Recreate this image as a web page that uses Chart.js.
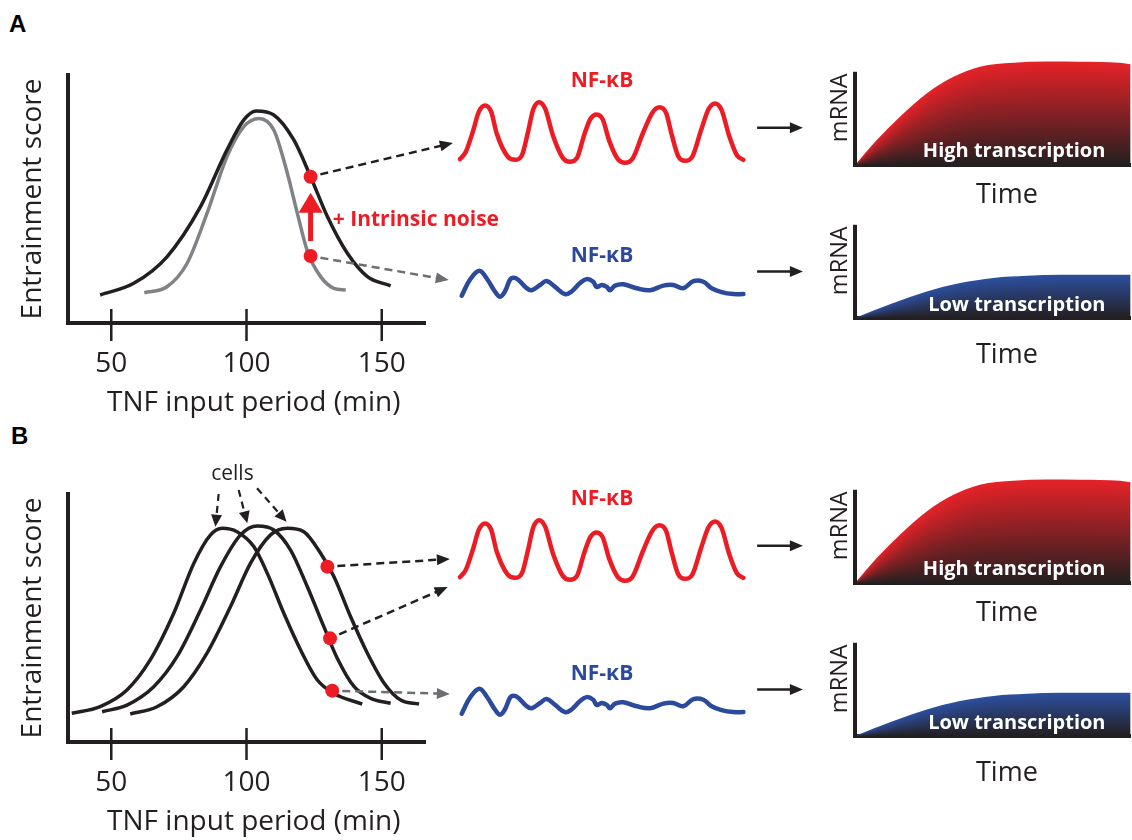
<!DOCTYPE html>
<html>
<head>
<meta charset="utf-8">
<title>TNF entrainment and NF-κB driven transcription</title>
<script src="https://cdn.jsdelivr.net/npm/chart.js@4.4.1/dist/chart.umd.min.js"></script>
<style>
  html, body { margin: 0; padding: 0; background: #fff; }
  #page { position: relative; width: 1132px; height: 840px; overflow: hidden; }
  canvas { position: absolute; }
  .panel-label { position: absolute; font: bold 24px 'Liberation Sans', Arial, sans-serif; line-height: 1; color: #000; }
</style>
</head>
<body>
<div id="page">
  <div class="panel-label" style="left:9px; top:12px">A</div>
  <div class="panel-label" style="left:11px; top:424px">B</div>

  <canvas id="mainA" width="520" height="380" style="left:0; top:40px"></canvas>
  <canvas id="pulseA" width="300" height="115" style="left:455px; top:60px"></canvas>
  <canvas id="noisyA" width="300" height="73" style="left:455px; top:235px"></canvas>
  <canvas id="highA" width="382" height="175" style="left:750px; top:40px"></canvas>
  <canvas id="lowA" width="382" height="182" style="left:750px; top:193px"></canvas>

  <canvas id="mainB" width="520" height="380" style="left:0; top:459px"></canvas>
  <canvas id="pulseB" width="300" height="115" style="left:455px; top:478px"></canvas>
  <canvas id="noisyB" width="300" height="73" style="left:455px; top:653px"></canvas>
  <canvas id="highB" width="382" height="175" style="left:750px; top:458px"></canvas>
  <canvas id="lowB" width="382" height="182" style="left:750px; top:611px"></canvas>
</div>

<script>
const ink = '#231f20';
const red = '#ed1c24';
const blue = '#2b4a9b';
const gray = '#808285';

// TNF input period axis (min)
const periodTicks = [50, 100, 150];

// Panel A: entrainment score, with intrinsic noise (black) and without (gray)
const noisyPeriodA = [45.9, 58.3, 70.6, 83.0, 92.8, 99.0, 103.6, 110.1, 117.5, 123.7, 129.9, 137.3, 144.7, 153.3];
const noisyScoreA = [0.113, 0.160, 0.267, 0.469, 0.698, 0.819, 0.855, 0.839, 0.738, 0.590, 0.429, 0.281, 0.187, 0.150];
const quietPeriodA = [62.2, 70.6, 78.0, 85.4, 92.8, 99.0, 104.6, 110.1, 115.1, 118.8, 122.5, 127.4, 132.3, 136.7];
const quietScoreA = [0.122, 0.146, 0.240, 0.442, 0.671, 0.792, 0.825, 0.778, 0.604, 0.442, 0.290, 0.187, 0.140, 0.133];
const markedPeriodA = [123.7, 123.7];
const markedScoreA = [0.59, 0.27];

// Panel B: three cells with shifted entrainment curves
const cell1Period = [35.4, 45.9, 55.8, 64.4, 73.1, 80.5, 86.7, 91.0, 96.5, 102.7, 107.7, 113.8, 120.0, 126.2, 132.3, 142.8];
const cell1Score = [0.116, 0.143, 0.210, 0.331, 0.519, 0.720, 0.835, 0.862, 0.848, 0.788, 0.680, 0.519, 0.371, 0.250, 0.196, 0.153];
const cell2Period = [46.6, 55.8, 65.7, 74.3, 83.0, 90.4, 97.8, 104.0, 110.1, 116.3, 122.5, 128.6, 133.6, 139.8, 145.9, 153.3];
const cell2Score = [0.122, 0.149, 0.223, 0.344, 0.532, 0.707, 0.835, 0.871, 0.855, 0.774, 0.626, 0.465, 0.337, 0.223, 0.176, 0.156];
const cell3Period = [57.0, 66.9, 76.8, 85.4, 94.1, 101.5, 108.9, 115.1, 121.2, 127.4, 132.3, 138.5, 144.7, 150.9, 157.0, 163.8];
const cell3Score = [0.113, 0.142, 0.223, 0.358, 0.546, 0.721, 0.835, 0.862, 0.848, 0.761, 0.667, 0.505, 0.358, 0.237, 0.169, 0.153];
const markedPeriodB = [129.9, 130.9, 131.7];
const markedScoreB = [0.707, 0.418, 0.207];

// NF-κB traces (time in % of trace, level relative to the regular pulses)
const pulseTime = [0, 2.0, 4.7, 6.6, 8.8, 11.0, 12.9, 16.8, 19.4, 21.8, 23.9, 25.8, 27.9, 30.0, 32.7, 36.2, 38.7, 41.2, 43.7, 45.9, 48.1, 50.3, 52.5, 55.6, 58.1, 60.8, 64.4, 67.8, 70.2, 72.6, 74.6, 76.8, 79.2, 81.8, 84.9, 87.5, 89.8, 92.1, 94.7, 97.5, 99.8];
const pulseLevel = [0.09, 0.20, 0.54, 0.82, 0.92, 0.82, 0.49, 0.13, 0.08, 0.15, 0.50, 0.86, 0.97, 0.87, 0.46, 0.11, 0.05, 0.11, 0.46, 0.71, 0.78, 0.70, 0.38, 0.09, 0.035, 0.10, 0.49, 0.81, 0.89, 0.80, 0.46, 0.14, 0.066, 0.13, 0.54, 0.86, 0.95, 0.85, 0.46, 0.15, 0.08];
const noisyTime = [0.6, 3.5, 6.8, 9.4, 12.3, 14.1, 15.8, 17.6, 18.8, 20.5, 23.5, 25.2, 28.2, 30.5, 33.5, 37.0, 39.3, 42.3, 44.6, 46.9, 48.1, 49.9, 51.7, 52.8, 54.6, 57.5, 62.2, 66.9, 71.6, 75.1, 78.6, 82.2, 85.7, 88.6, 92.1, 96.2, 99.8];
const noisyLevel = [0.035, 0.28, 0.42, 0.30, 0.10, 0.02, 0.10, 0.28, 0.31, 0.28, 0.15, 0.12, 0.20, 0.26, 0.17, 0.06, 0.10, 0.23, 0.29, 0.25, 0.17, 0.20, 0.17, 0.12, 0.19, 0.21, 0.15, 0.12, 0.19, 0.20, 0.15, 0.26, 0.25, 0.15, 0.09, 0.06, 0.06];

// mRNA accumulation over time
const highTime = [0, 7.9, 16.3, 26.0, 35.7, 45.3, 57.4, 69.5, 81.6, 96.1, 100];
const highMrna = [0, 0.268, 0.518, 0.768, 0.946, 1.054, 1.096, 1.111, 1.107, 1.096, 1.08];
const lowTime = [0, 13.9, 26.0, 38.1, 50.2, 62.3, 74.4, 86.5, 100];
const lowMrna = [0, 0.16, 0.285, 0.375, 0.43, 0.453, 0.464, 0.464, 0.464];

Chart.defaults.font.family = '"Open Sans", sans-serif';
Chart.defaults.color = ink;

function pts(xs, ys) {
    return xs.map((x, i) => ({ x: x, y: ys[i] }));
}

function arrow(ctx, x0, y0, x1, y1, o) {
    const a = Math.atan2(y1 - y0, x1 - x0);
    const c = Math.cos(a), s = Math.sin(a);
    const head = o.head || 13, half = o.half || 5.5, gap = o.gap || 0;
    const bx = x1 - c * head, by = y1 - s * head;
    ctx.strokeStyle = o.color;
    ctx.fillStyle = o.color;
    ctx.lineWidth = o.width || 2.5;
    ctx.setLineDash(o.dash || []);
    ctx.beginPath();
    ctx.moveTo(x0 + c * gap, y0 + s * gap);
    ctx.lineTo(bx + c * 2, by + s * 2);
    ctx.stroke();
    ctx.setLineDash([]);
    ctx.beginPath();
    ctx.moveTo(x1, y1);
    ctx.lineTo(bx - s * half, by + c * half);
    ctx.lineTo(bx + s * half, by - c * half);
    ctx.closePath();
    ctx.fill();
}

// period ticks and their labels, arrows and notes, all placed through the scales
function entrainmentNotes(notes) {
    return {
        id: 'entrainmentNotes',
        afterDatasetsDraw(chart) {
            const { ctx, chartArea } = chart;
            const px = v => chart.scales.x.getPixelForValue(v);
            const py = v => chart.scales.y.getPixelForValue(v);
            ctx.save();
            ctx.strokeStyle = ink;
            ctx.fillStyle = ink;
            ctx.lineWidth = 2.5;
            ctx.font = '28px "Open Sans"';
            ctx.textAlign = 'center';
            ctx.textBaseline = 'middle';
            periodTicks.forEach(v => {
                ctx.beginPath();
                ctx.moveTo(px(v), chartArea.bottom - 14);
                ctx.lineTo(px(v), chartArea.bottom + 18);
                ctx.stroke();
                ctx.fillText(String(v), px(v), chartArea.bottom + 41);
            });
            notes.arrows.forEach(a => arrow(ctx, px(a.from[0]), py(a.from[1]), px(a.to[0]), py(a.to[1]), a));
            notes.labels.forEach(l => {
                ctx.font = l.font;
                ctx.fillStyle = l.color;
                ctx.textAlign = l.align;
                ctx.textBaseline = 'middle';
                ctx.fillText(l.text, px(l.at[0]), py(l.at[1]));
            });
            ctx.restore();
        }
    };
}

function entrainmentChart(id, curves, dots, notes) {
    const datasets = [{
        data: pts(dots.x, dots.y),
        showLine: false,
        pointRadius: 7,
        pointBackgroundColor: red,
        pointBorderWidth: 0
    }];
    curves.forEach(c => datasets.push({
        data: pts(c.x, c.y),
        borderColor: c.color,
        borderWidth: 3.5,
        pointRadius: 0,
        fill: false,
        cubicInterpolationMode: 'monotone'
    }));
    return new Chart(document.getElementById(id), {
        type: 'line',
        data: { datasets: datasets },
        options: {
            responsive: false,
            animation: false,
            devicePixelRatio: 1,
            events: [],
            layout: { padding: { left: 16, top: 35, right: 95, bottom: 0.2 } },
            plugins: { legend: { display: false }, tooltip: { enabled: false } },
            scales: {
                x: {
                    type: 'linear', min: 34, max: 166,
                    grid: { display: false, drawTicks: false },
                    border: { display: true, width: 4, color: ink },
                    ticks: { display: false },
                    title: { display: true, text: '  TNF input period (min)', color: ink, font: { size: 28 }, padding: { top: 63.2, bottom: 0 } }
                },
                y: {
                    min: 0, max: 1,
                    grid: { display: false, drawTicks: false },
                    border: { display: true, width: 4, color: ink },
                    ticks: { display: false },
                    title: { display: true, text: 'Entrainment score', color: ink, font: { size: 28 }, padding: { top: 0, bottom: 18.4 } }
                }
            }
        },
        plugins: [entrainmentNotes(notes)]
    });
}

function nfkbChart(id, xs, ys, color, yMax, titleGap, smooth) {
    return new Chart(document.getElementById(id), {
        type: 'line',
        data: {
            datasets: [{
                data: pts(xs, ys),
                borderColor: color,
                borderWidth: 4.5,
                borderCapStyle: 'round',
                borderJoinStyle: 'round',
                pointRadius: 0,
                clip: false,
                cubicInterpolationMode: smooth,
                tension: 0.4
            }]
        },
        options: {
            responsive: false,
            animation: false,
            devicePixelRatio: 1,
            events: [],
            layout: { padding: { left: 5, right: 11, top: 0, bottom: 10 } },
            plugins: {
                legend: { display: false },
                tooltip: { enabled: false },
                title: { display: true, text: 'NF-κB', color: color, font: { size: 21, weight: 'bold' }, padding: { top: 8, bottom: titleGap } }
            },
            scales: {
                x: { type: 'linear', display: false, min: 0, max: 100 },
                y: { display: false, min: 0, max: yMax }
            }
        }
    });
}

// shade each column from the curve top down to the axis, so colour follows the shape
function mrnaShade(chart, xs, ys, topColor) {
    const { chartArea, scales } = chart;
    if (!chartArea) return topColor;
    const x = scales.x, y = scales.y;
    const off = document.createElement('canvas');
    off.width = chart.width;
    off.height = chart.height;
    const c = off.getContext('2d');
    const bottom = y.getPixelForValue(0);
    const px = xs.map(v => x.getPixelForValue(v));
    const py = ys.map(v => y.getPixelForValue(v));
    for (let col = Math.floor(px[0]); col <= Math.ceil(px[px.length - 1]); col++) {
        let k = 1;
        while (k < px.length - 1 && px[k] < col) k++;
        const f = Math.min(1, Math.max(0, (col - px[k - 1]) / (px[k] - px[k - 1])));
        const top = Math.min(py[k - 1] + f * (py[k] - py[k - 1]), bottom - 1);
        const g = c.createLinearGradient(0, top, 0, bottom);
        g.addColorStop(0, topColor);
        g.addColorStop(1, ink);
        c.fillStyle = g;
        c.fillRect(col - 1, top - 3, 2, bottom - top + 6);
    }
    return chart.ctx.createPattern(off, 'no-repeat');
}

function mrnaNotes(label, labelAt, arrowSpan) {
    return {
        id: 'mrnaNotes',
        afterDatasetsDraw(chart) {
            const { ctx, chartArea } = chart;
            const x = chart.scales.x, y = chart.scales.y;
            ctx.save();
            ctx.strokeStyle = ink;
            ctx.lineWidth = 4;
            ctx.beginPath();
            ctx.moveTo(chartArea.left, y.getPixelForValue(0) + 2);
            ctx.lineTo(chartArea.left, y.getPixelForValue(1));
            ctx.stroke();
            arrow(ctx, x.getPixelForValue(arrowSpan[0]), y.getPixelForValue(arrowSpan[2]),
                x.getPixelForValue(arrowSpan[1]), y.getPixelForValue(arrowSpan[2]),
                { color: ink, width: 2.5, head: 13, half: 5.5 });
            ctx.font = 'bold 20px "Open Sans"';
            ctx.fillStyle = '#fff';
            ctx.textAlign = 'center';
            ctx.textBaseline = 'alphabetic';
            ctx.fillText(label, x.getPixelForValue(labelAt[0]), y.getPixelForValue(labelAt[1]));
            ctx.restore();
        }
    };
}

function mrnaChart(id, xs, ys, topColor, label, labelAt, arrowSpan, timeGap) {
    return new Chart(document.getElementById(id), {
        type: 'line',
        data: {
            datasets: [{
                data: pts(xs, ys),
                borderWidth: 0,
                pointRadius: 0,
                fill: 'origin',
                cubicInterpolationMode: 'monotone',
                backgroundColor: c => mrnaShade(c.chart, xs, ys, topColor)
            }]
        },
        options: {
            responsive: false,
            animation: false,
            devicePixelRatio: 1,
            events: [],
            layout: { padding: { left: 70, right: 1.3, top: 15, bottom: 3.8 } },
            plugins: { legend: { display: false }, tooltip: { enabled: false } },
            scales: {
                x: {
                    type: 'linear', min: 0, max: 100,
                    grid: { display: false, drawTicks: false },
                    border: { display: true, width: 4, color: ink },
                    ticks: { display: false },
                    title: { display: true, text: '    Time', color: ink, font: { size: 27 }, padding: { top: timeGap, bottom: 0 } }
                },
                y: {
                    min: 0, max: 1.18,
                    grid: { display: false, drawTicks: false },
                    border: { display: false },
                    ticks: { display: false },
                    title: { display: true, text: 'mRNA   ', align: 'end', color: ink, font: { size: 23.5 }, padding: { top: 5.9, bottom: 0.9 } }
                }
            }
        },
        plugins: [mrnaNotes(label, labelAt, arrowSpan)]
    });
}

const dashBlack = { color: ink, dash: [8, 5], width: 2.5, gap: 10 };
const dashGray = { color: '#6d6e71', dash: [8, 5], width: 2.5, gap: 10 };

// Panel A
entrainmentChart('mainA',
    [{ x: noisyPeriodA, y: noisyScoreA, color: ink }, { x: quietPeriodA, y: quietScoreA, color: gray }],
    { x: markedPeriodA, y: markedScoreA },
    {
        arrows: [
            Object.assign({ from: [markedPeriodA[0], markedScoreA[0]], to: [176.3, 0.726] }, dashBlack),
            Object.assign({ from: [markedPeriodA[1], markedScoreA[1]], to: [174.8, 0.173] }, dashGray),
            { from: [markedPeriodA[1], markedScoreA[1]], to: [markedPeriodA[0], 0.525], color: red, width: 5, head: 20, half: 12, gap: 15 }
        ],
        labels: [{ text: '+ Intrinsic noise', at: [131.9, 0.415], font: 'bold 21px "Open Sans"', color: red, align: 'left' }]
    });
nfkbChart('pulseA', pulseTime, pulseLevel, red, 1, 7, 'monotone');
nfkbChart('noisyA', noisyTime, noisyLevel, blue, 0.458, 0, 'default');
mrnaChart('highA', highTime, highMrna, '#e52228', 'High transcription', [57.7, 0.09], [-35.5, -18.9, 0.40], 13.8);
mrnaChart('lowA', lowTime, lowMrna, '#2d4fa0', 'Low transcription', [58.7, 0.08], [-35.5, -18.9, 0.50], 20.8);

// Panel B
entrainmentChart('mainB',
    [{ x: cell1Period, y: cell1Score, color: ink }, { x: cell2Period, y: cell2Score, color: ink }, { x: cell3Period, y: cell3Score, color: ink }],
    { x: markedPeriodB, y: markedScoreB },
    {
        arrows: [
            Object.assign({ from: [markedPeriodB[0], markedScoreB[0]], to: [175.2, 0.738] }, dashBlack),
            Object.assign({ from: [markedPeriodB[1], markedScoreB[1]], to: [174.4, 0.625] }, dashBlack),
            Object.assign({ from: [markedPeriodB[2], markedScoreB[2]], to: [175.2, 0.194] }, dashGray),
            { from: [89.7, 1.0], to: [88.5, 0.868], color: ink, dash: [7, 5], width: 2.2, head: 12, half: 5.5 },
            { from: [97.1, 1.016], to: [100.3, 0.882], color: ink, dash: [7, 5], width: 2.2, head: 12, half: 5.5 },
            { from: [103.9, 1.023], to: [114.8, 0.888], color: ink, dash: [7, 5], width: 2.2, head: 12, half: 5.5 }
        ],
        labels: [{ text: 'cells', at: [94.8, 1.08], font: '21px "Open Sans"', color: ink, align: 'center' }]
    });
nfkbChart('pulseB', pulseTime, pulseLevel, red, 1, 7, 'monotone');
nfkbChart('noisyB', noisyTime, noisyLevel, blue, 0.458, 0, 'default');
mrnaChart('highB', highTime, highMrna, '#e52228', 'High transcription', [57.7, 0.09], [-35.5, -18.9, 0.40], 13.8);
mrnaChart('lowB', lowTime, lowMrna, '#2d4fa0', 'Low transcription', [58.7, 0.08], [-35.5, -18.9, 0.50], 20.8);
</script>
</body>
</html>
